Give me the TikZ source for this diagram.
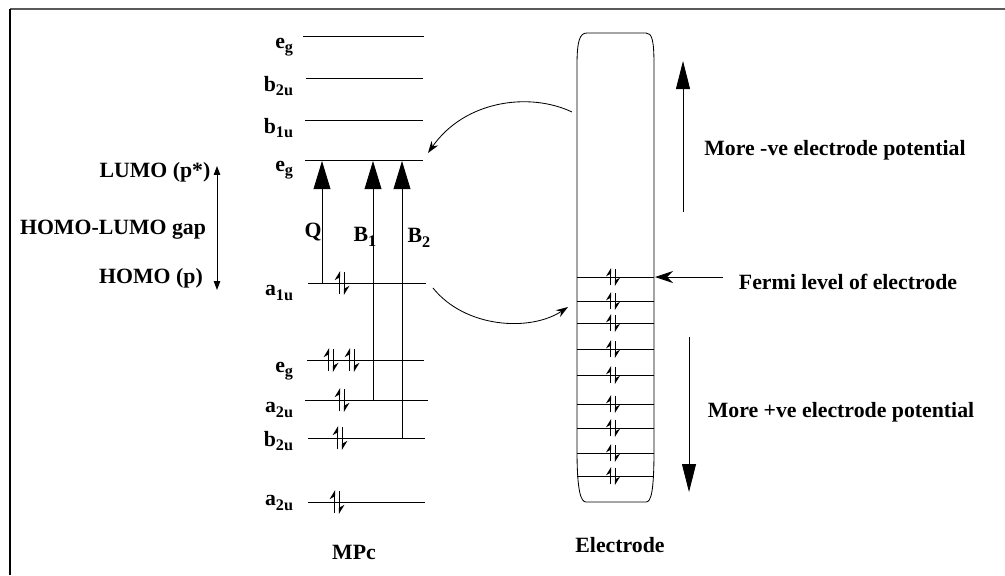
\documentclass[tikz,border=0pt]{standalone}
\usepackage{fontspec}
\setmainfont{Liberation Serif}
\usetikzlibrary{arrows.meta, positioning, calc}

\newcommand{\lvsub}[1]{\raisebox{-0.45ex}{\fontsize{11.5}{12}\selectfont #1}}

\tikzset{
  level/.style={line width=0.6pt},
  excite/.style={line width=0.6pt, -{Triangle[length=7mm,width=4.2mm]}},
  potential/.style={line width=0.6pt, -{Triangle[length=7mm,width=3.5mm]}},
  transfer/.style={line width=0.6pt, -{Stealth[length=3mm,width=2mm]}},
  spins/.pic={
    \draw[line width=0.9pt, -{Stealth[left,length=2mm,width=2.4mm]}] (-2.5,11) -- (-2.5,-12);
    \draw[line width=0.9pt, -{Stealth[left,length=2mm,width=2.4mm]}] (2.5,-11) -- (2.5,12);
  },
  bandspins/.pic={
    \draw[line width=0.9pt, -{Stealth[left,length=1.8mm,width=2.2mm]}] (-2.5,8) -- (-2.5,-9);
    \draw[line width=0.9pt, -{Stealth[left,length=1.8mm,width=2.2mm]}] (2.5,-8) -- (2.5,9);
  }
}

\begin{document}
\begin{tikzpicture}[x=0.025cm, y=-0.025cm, font=\bfseries\fontsize{15.5}{18}\selectfont]
    \useasboundingbox (0,0) rectangle (1005,575);
    \draw[line width=0.5mm, gray!70!black] (10,9) -- (1005,9);
    \draw[line width=0.35mm] (10,9) -- (10,575);

    % MPc levels
    \draw[level] (303,36) -- (424,36);
    \draw[level] (306,78) -- (423,78);
    \draw[level] (305,120) -- (423,120);
    \draw[level] (305,160) coordinate (lumoL) -- (423,160) coordinate (lumoR);
    \draw[level] (308,283) coordinate (homoL) -- (426,283) coordinate (homoR);
    \draw[level] (307,360) -- (424,360);
    \draw[level] (305,400) -- (428,400);
    \draw[level] (308,438) -- (425,438);
    \draw[level] (308,502) -- (425,502);

    \node[anchor=east] (egA) at (298,47) {e\lvsub{g}};
    \node[anchor=east] (bzuA) at (298,86) {b\lvsub{2u}};
    \node[anchor=east] (bouA) at (298,128) {b\lvsub{1u}};
    \node[anchor=east] (egB) at (298,170) {e\lvsub{g}};
    \node[anchor=east] (aouA) at (298,293) {a\lvsub{1u}};
    \node[anchor=east] (egC) at (298,371) {e\lvsub{g}};
    \node[anchor=east] (azuA) at (298,410) {a\lvsub{2u}};
    \node[anchor=east] (bzuB) at (298,441) {b\lvsub{2u}};
    \node[anchor=east] (azuB) at (298,503) {a\lvsub{2u}};

    \pic at (342,283) {spins};
    \pic at (331,360) {spins};
    \pic at (352,360) {spins};
    \pic at (342,400) {spins};
    \pic at (340,438) {spins};
    \pic at (337,502) {spins};

    % transitions
    \coordinate (qFoot) at (322,283);
    \coordinate (qTip) at (322,161);
    \coordinate (bOneFoot) at (373,400);
    \coordinate (bOneTip) at (373,161);
    \coordinate (bTwoFoot) at (402,438);
    \coordinate (bTwoTip) at (402,161);
    \draw[excite] (qFoot) -- (qTip);
    \draw[excite] (bOneFoot) -- (bOneTip);
    \draw[excite] (bTwoFoot) -- (bTwoTip);
    \node (qLbl) at (313,232) {Q};
    \node (bOneLbl) at (365,237) {B\lvsub{1}};
    \node (bTwoLbl) at (419,238) {B\lvsub{2}};

    % gap
    \node (lumoLbl) at (155,172) {LUMO (p*)};
    \node (gapLbl) at (113,230) {HOMO-LUMO gap};
    \node (homoLbl) at (151,278) {HOMO (p)};
    \coordinate (gapTop) at (217,166);
    \coordinate (gapBot) at (217,290);
    \draw[line width=0.6pt, {Triangle[length=2.2mm,width=1.6mm]}-{Triangle[length=2.2mm,width=1.6mm]}] (gapTop) -- (gapBot);

    \node (mpcLbl) at (354,552) {MPc};

    % electrode
    \draw[line width=0.6pt] (577,450) -- (577,65) .. controls (577,40) and (580,33) .. (587,33)
        -- (646,33) .. controls (652,33) and (654,40) .. (654,65) -- (654,450)
        .. controls (654,492) and (651,502) .. (646,502) -- (586,502)
        .. controls (581,502) and (577,492) .. (577,450);
    \foreach \y in {277,301,323,349,375,404,428,453,476} {
      \draw[level] (577,\y) -- (654,\y);
      \pic at (613,\y) {bandspins};
    }
    \coordinate (fermiR) at (655,277);
    \coordinate (fermiTail) at (723,277);
    \draw[line width=0.6pt, -{Stealth[length=4.5mm,width=3mm]}] (fermiTail) -- (fermiR);
    \node (fermiLbl) at (848,282) {Fermi level of electrode};
    \node (elecLbl) at (620,545) {Electrode};

    % potentials
    \coordinate (negFoot) at (683,212);
    \coordinate (negTip) at (683,61);
    \coordinate (posFoot) at (689,337);
    \coordinate (posTip) at (689,492);
    \draw[potential] (negFoot) -- (negTip);
    \draw[potential] (posFoot) -- (posTip);
    \node (negLbl) at (835,150) {More -ve electrode potential};
    \node (posLbl) at (841,412) {More +ve electrode potential};

    % electron transfer
    \coordinate (elecUp) at (572,112);
    \coordinate (lumoIn) at (428,153);
    \coordinate (homoOut) at (433,288);
    \coordinate (elecDown) at (568,307);
    \draw[transfer] (elecUp) .. controls (530,92) and (465,100) .. (lumoIn);
    \draw[transfer] (homoOut) .. controls (465,328) and (530,332) .. (elecDown);
\end{tikzpicture}
\end{document}
